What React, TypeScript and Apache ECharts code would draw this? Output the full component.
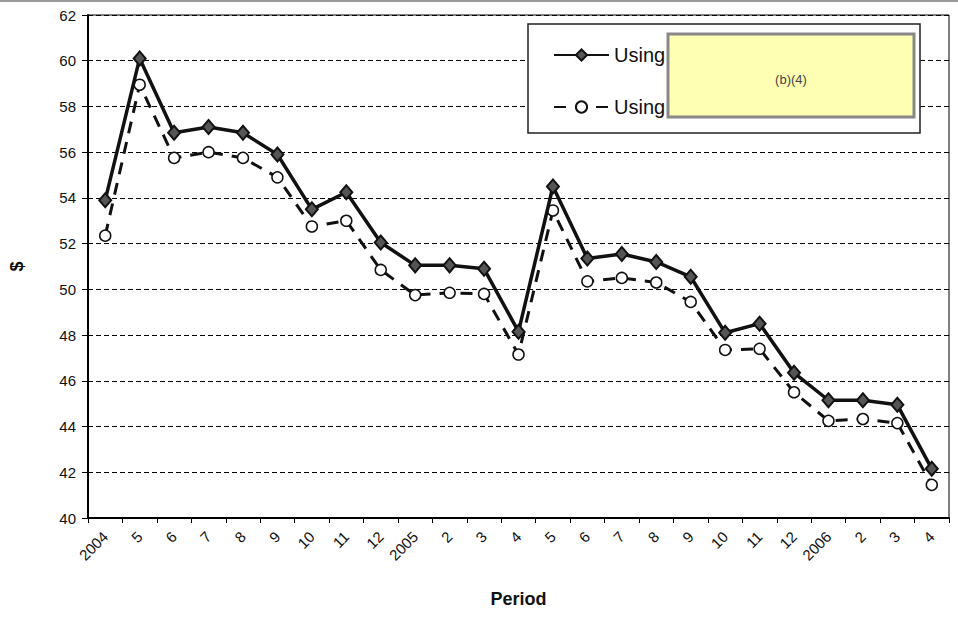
import React, { useEffect, useRef } from "react";
import * as echarts from "echarts";

// Monthly periods, April 2004 through April 2006
const periods: string[] = [
  "2004", "5", "6", "7", "8", "9", "10", "11", "12",
  "2005", "2", "3", "4", "5", "6", "7", "8", "9", "10", "11", "12",
  "2006", "2", "3", "4",
];

// Solid line with diamond markers
const seriesSolid: number[] = [
  53.9, 60.1, 56.85, 57.1, 56.85, 55.9, 53.5, 54.25, 52.05,
  51.05, 51.05, 50.9, 48.15, 54.5, 51.35, 51.55, 51.2, 50.55,
  48.1, 48.5, 46.35, 45.15, 45.15, 44.95, 42.15,
];

// Dashed line with open circle markers
const seriesDashed: number[] = [
  52.35, 58.95, 55.75, 56.0, 55.75, 54.9, 52.75, 53.0, 50.85,
  49.75, 49.85, 49.8, 47.15, 53.45, 50.35, 50.5, 50.3, 49.45,
  47.35, 47.4, 45.5, 44.25, 44.33, 44.15, 41.45,
];

const seriesNames: string[] = ["Using method 1", "Using method 2"];
const legendLabel = "Using";
const redactionText = "(b)(4)";

const FONT = "'Liberation Sans', Arial, sans-serif";

export default function App() {
  const ref = useRef<HTMLDivElement>(null);

  useEffect(() => {
    if (!ref.current) return;
    const chart = echarts.init(ref.current, null, { renderer: "svg" });
    chart.setOption({
      animation: false,
      backgroundColor: "#ffffff",
      grid: { left: 86, right: 9, top: 15, bottom: 105, show: true, borderColor: "#000", borderWidth: 1 },
      xAxis: {
        type: "category",
        data: periods,
        boundaryGap: true,
        name: "Period",
        nameLocation: "middle",
        nameGap: 72,
        nameTextStyle: { fontFamily: FONT, fontSize: 18, fontWeight: "bold", color: "#111" },
        axisLine: { lineStyle: { color: "#000", width: 2 } },
        axisTick: { show: true, alignWithLabel: false, length: 5, lineStyle: { color: "#000" } },
        axisLabel: { rotate: 45, fontFamily: FONT, fontSize: 15, color: "#111", margin: 16, interval: 0 },
        splitLine: { show: false },
      },
      yAxis: {
        type: "value",
        min: 40,
        max: 62,
        interval: 2,
        name: "$",
        nameLocation: "middle",
        nameRotate: 90,
        nameGap: 62,
        nameTextStyle: { fontFamily: FONT, fontSize: 18, fontWeight: "bold", color: "#111" },
        axisLine: { show: true, lineStyle: { color: "#000", width: 2 } },
        axisTick: { show: true, length: 6, lineStyle: { color: "#000" } },
        axisLabel: { fontFamily: FONT, fontSize: 15, color: "#111", margin: 12 },
        splitLine: { show: true, lineStyle: { color: "#000", type: [5, 3], width: 1 } },
      },
      legend: {
        orient: "vertical",
        left: 548,
        top: 40,
        itemWidth: 55,
        itemHeight: 14,
        itemGap: 32,
        z: 4,
        textStyle: { fontFamily: FONT, fontSize: 20, color: "#111" },
        formatter: () => legendLabel,
        data: seriesNames,
      },
      series: [
        {
          name: seriesNames[0],
          type: "line",
          data: seriesSolid,
          symbol: "diamond",
          symbolSize: [12, 14],
          lineStyle: { color: "#111", width: 3.5 },
          itemStyle: { color: "#555", borderColor: "#111", borderWidth: 2 },
          z: 3,
        },
        {
          name: seriesNames[1],
          type: "line",
          data: seriesDashed,
          symbol: "circle",
          symbolSize: 11,
          lineStyle: { color: "#111", width: 3, type: [12, 9] },
          itemStyle: { color: "#fff", borderColor: "#111", borderWidth: 1.5 },
          z: 2,
        },
      ],
      graphic: [
        {
          type: "line",
          shape: { x1: 0, y1: 1, x2: 958, y2: 1 },
          style: { stroke: "#999", lineWidth: 2 },
          z: 1,
        },
        {
          type: "rect",
          shape: { x: 528, y: 24, width: 392, height: 109 },
          style: { fill: "#fff", stroke: "#222", lineWidth: 1.5 },
          z: 3,
        },
        {
          type: "rect",
          shape: { x: 668, y: 34, width: 246, height: 83 },
          style: { fill: "#ffffb3", stroke: "#888", lineWidth: 3 },
          z: 10,
        },
        {
          type: "text",
          x: 791,
          y: 79,
          style: {
            text: redactionText,
            fontFamily: FONT,
            fontSize: 13,
            fill: "#444",
            align: "center",
            verticalAlign: "middle",
          },
          z: 11,
        },
      ],
    });
    return () => chart.dispose();
  }, []);

  return (
    <div
      ref={ref}
      style={{ position: "absolute", left: 0, top: 0, width: 958, height: 623 }}
    />
  );
}
